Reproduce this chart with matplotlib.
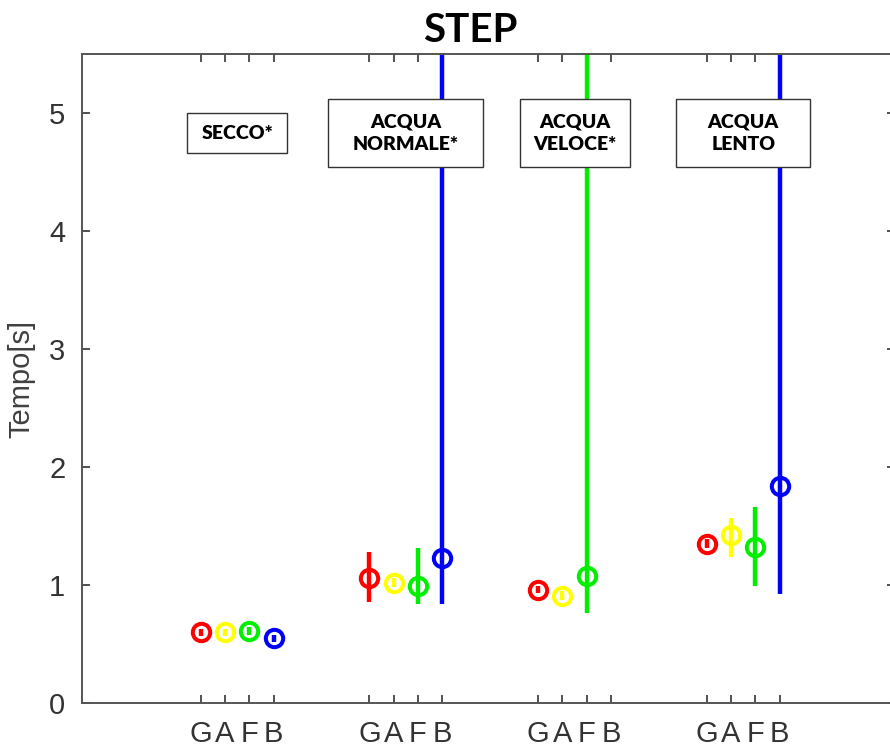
import numpy as np
import matplotlib
matplotlib.use("Agg")
import matplotlib.pyplot as plt
from matplotlib.patches import Rectangle

# conditions (one group each) and the four subjects inside every group
conditions = ["SECCO*", "ACQUA\nNORMALE*", "ACQUA\nVELOCE*", "ACQUA\nLENTO"]
subjects = ["G", "A", "F", "B"]
colors = ["#ff0000", "#ffff00", "#00ee00", "#0000ff"]

# mean step time [s] per subject, one value per condition (nan = missing)
means = {
    "G": [0.60, 1.06, 0.96, 1.35],
    "A": [0.60, 1.02, 0.91, 1.42],
    "F": [0.61, 0.99, 1.08, 1.32],
    "B": [0.55, 1.23, np.nan, 1.84],
}
lows = {
    "G": [0.57, 0.86, 0.93, 1.31],
    "A": [0.57, 0.98, 0.87, 1.24],
    "F": [0.58, 0.84, 0.76, 0.99],
    "B": [0.52, 0.84, np.nan, 0.92],
}
highs = {
    "G": [0.63, 1.28, 0.99, 1.39],
    "A": [0.63, 1.06, 0.95, 1.57],
    "F": [0.64, 1.31, 6.50, 1.66],
    "B": [0.58, 6.50, np.nan, 6.50],
}

box_sizes = [(0.593, 0.34), (0.919, 0.576), (0.652, 0.576), (0.794, 0.576)]

plt.rcParams['font.family'] = ['Liberation Sans', 'DejaVu Sans']

fig = plt.figure(figsize=(8.9, 7.49), dpi=100)
ax = fig.add_axes([82 / 890, 46 / 749, 813 / 890, 649 / 749])

offsets = np.array([-0.216, -0.072, 0.072, 0.216])
centers = np.arange(1, len(conditions) + 1)

for k, s in enumerate(subjects):
    x = centers + offsets[k]
    y = np.array(means[s])
    lo = y - np.array(lows[s])
    hi = np.array(highs[s]) - y
    ax.errorbar(x, y, yerr=[lo, hi], fmt='o', color=colors[k], mfc='none',
                mec=colors[k], ms=12.5, mew=2.9, elinewidth=3.2, capsize=0, zorder=2)

ticks = np.concatenate([c + offsets for c in centers])
ax.set_xticks(ticks)
ax.set_xticklabels(subjects * len(conditions))
ax.set_xlim(0.08, 4.90)
ax.set_ylim(0, 5.5)
ax.set_yticks(range(6))

ax.tick_params(direction='in', length=6, width=1.2, top=True, right=True,
               labelsize=21, colors='#333333', pad=12)
for sp in ax.spines.values():
    sp.set_color('#555555')
    sp.set_linewidth(1.4)
ax.set_ylabel('Tempo[s]', fontsize=21, color='#404040', labelpad=10)

# condition label boxes
for c, label, (w, h) in zip(centers, conditions, box_sizes):
    ax.add_patch(Rectangle((c - w / 2, 4.83 - h / 2), w, h, facecolor='white',
                           edgecolor='#333333', linewidth=1.0, zorder=4))
    ax.text(c, 4.83, label, ha='center', va='center', fontsize=14,
            fontweight='heavy', family=['Lato', 'DejaVu Sans'], linespacing=1.4, zorder=5)

fig.text(470 / 890, 1 - 30 / 749, 'STEP', ha='center', va='center', fontsize=29,
         fontweight='bold', family=['Lato', 'DejaVu Sans'])

fig.savefig('out.png', dpi=100)
